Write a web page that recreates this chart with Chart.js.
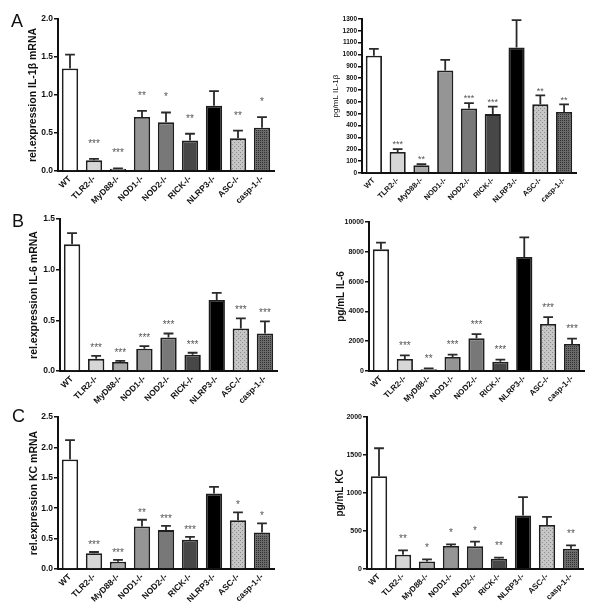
<!DOCTYPE html>
<html><head><meta charset="utf-8">
<script src="https://cdn.jsdelivr.net/npm/chart.js@4/dist/chart.umd.min.js"></script>
<style>
html,body{margin:0;padding:0;background:#fff;}
#wrap{position:relative;width:600px;height:613px;overflow:hidden;background:#fff;}
canvas{position:absolute;}
.letter{position:absolute;font-family:Arial,"Liberation Sans",sans-serif;font-size:18px;color:#111;line-height:1;}
</style></head><body>
<div id="wrap">
  <canvas id="cA1"></canvas><canvas id="cA2"></canvas>
  <canvas id="cB1"></canvas><canvas id="cB2"></canvas>
  <canvas id="cC1"></canvas><canvas id="cC2"></canvas>
  <div class="letter" style="left:11px;top:12px">A</div>
  <div class="letter" style="left:12px;top:212px">B</div>
  <div class="letter" style="left:12px;top:407px">C</div>
</div>
<script>
// ---- data ----
const categories = ['WT','TLR2-/-','MyD88-/-','NOD1-/-','NOD2-/-','RICK-/-','NLRP3-/-','ASC-/-','casp-1-/-'];

const il1bMrnaMean  = [1.35, 0.14, 0.03, 0.71, 0.64, 0.40, 0.86, 0.43, 0.57];
const il1bMrnaSem   = [0.18, 0.02, 0.005, 0.08, 0.13, 0.09, 0.19, 0.10, 0.14];
const il1bMrnaStars = ['', '***', '***', '**', '*', '**', '', '**', '*'];
const il1bMrnaTicks = [0, 0.5, 1.0, 1.5, 2.0];

const il1bProtMean  = [990, 177, 65, 865, 545, 497, 1060, 580, 515];
const il1bProtSem   = [57, 25, 10, 90, 45, 63, 230, 75, 65];
const il1bProtStars = ['', '***', '**', '', '***', '***', '', '**', '**'];
const il1bProtTicks = [0,100,200,300,400,500,600,700,800,900,1000,1100,1200,1300];

const il6MrnaMean  = [1.25, 0.12, 0.09, 0.22, 0.33, 0.16, 0.70, 0.42, 0.37];
const il6MrnaSem   = [0.11, 0.03, 0.01, 0.025, 0.04, 0.02, 0.07, 0.10, 0.12];
const il6MrnaStars = ['', '***', '***', '***', '***', '***', '', '***', '***'];
const il6MrnaTicks = [0, 0.5, 1.0, 1.5];

const il6ProtMean  = [8165, 805, 110, 940, 2190, 626, 7650, 3150, 1810];
const il6ProtSem   = [450, 245, 70, 160, 290, 134, 1320, 470, 360];
const il6ProtStars = ['', '***', '**', '***', '***', '***', '', '***', '***'];
const il6ProtTicks = [0, 2000, 4000, 6000, 8000, 10000];

const kcMrnaMean  = [1.80, 0.26, 0.12, 0.70, 0.64, 0.48, 1.24, 0.80, 0.60];
const kcMrnaSem   = [0.32, 0.02, 0.03, 0.11, 0.07, 0.05, 0.11, 0.13, 0.15];
const kcMrnaStars = ['', '***', '***', '**', '***', '***', '', '*', '*'];
const kcMrnaTicks = [0, 0.5, 1.0, 1.5, 2.0, 2.5];

const kcProtMean  = [1221, 188, 100, 302, 298, 136, 705, 578, 267];
const kcProtSem   = [368, 57, 27, 22, 61, 13, 240, 109, 44];
const kcProtStars = ['', '**', '*', '*', '*', '**', '', '', '**'];
const kcProtTicks = [0, 500, 1000, 1500, 2000];

// ---- styles ----
const FONT = 'Arial, "Liberation Sans", sans-serif';
function makePattern(bg, fg, cross) {
  const c = document.createElement('canvas'); c.width = 4; c.height = 4;
  const g = c.getContext('2d');
  g.fillStyle = bg; g.fillRect(0, 0, 4, 4);
  g.fillStyle = fg;
  g.fillRect(0, 0, 1, 1); g.fillRect(2, 2, 1, 1);
  if (cross) { g.fillRect(2, 0, 1, 1); g.fillRect(0, 2, 1, 1); }
  return g.createPattern(c, 'repeat');
}
const fills = ['#ffffff', '#d6d6d6', '#a9a9a9', '#959595', '#787878', '#474747', '#000000',
               makePattern('#c6c6c6', '#8c8c8c', false), makePattern('#6a6a6a', '#333333', true)];

function errPlugin(o) {
  return {
    id: 'err',
    afterDatasetsDraw(chart) {
      const ctx = chart.ctx, meta = chart.getDatasetMeta(0), ys = chart.scales.y;
      ctx.save();
      meta.data.forEach((bar, i) => {
        const top = ys.getPixelForValue(o.mean[i] + o.sem[i]);
        const base = ys.getPixelForValue(o.mean[i]);
        const half = bar.width * 0.3;
        ctx.strokeStyle = '#2a2a2a'; ctx.lineWidth = 1.8;
        ctx.beginPath();
        ctx.moveTo(bar.x, base); ctx.lineTo(bar.x, top);
        ctx.moveTo(bar.x - half, top); ctx.lineTo(bar.x + half, top);
        ctx.stroke();
        if (o.stars[i]) {
          ctx.fillStyle = '#555';
          ctx.font = o.starSize + 'px ' + FONT;
          ctx.textAlign = 'center'; ctx.textBaseline = 'alphabetic';
          ctx.fillText(o.stars[i], bar.x, top - o.starOff + o.starSize * 0.58);
        }
      });
      ctx.restore();
    }
  };
}

function panel(id, o) {
  const cv = document.getElementById(id);
  cv.width = 300; cv.height = o.h;
  cv.style.left = o.cl + 'px'; cv.style.top = o.ct + 'px';
  cv.style.width = '300px'; cv.style.height = o.h + 'px';
  const ticks = o.ticks;
  const lh = o.titleSize * 1.2;
  new Chart(cv, {
    type: 'bar',
    data: { labels: categories, datasets: [{
      data: o.mean, backgroundColor: fills, borderColor: '#1e1e1e', borderWidth: 1.8,
      barPercentage: 0.68, categoryPercentage: 1 }] },
    options: {
      responsive: false, animation: false, devicePixelRatio: 1,
      layout: { padding: { left: 0, top: o.T - o.ct, right: o.cl + 300 - o.R, bottom: 0 } },
      plugins: { legend: { display: false }, tooltip: { enabled: false } },
      scales: {
        x: {
          grid: { display: false, drawTicks: false },
          border: { display: true, color: '#111', width: 2 },
          ticks: { minRotation: 45, maxRotation: 45, autoSkip: false, padding: 3, color: '#111',
                   font: { family: FONT, size: o.xSize, weight: 'bold' } },
          afterFit: s => { s.height = o.ct + o.h - o.B; }
        },
        y: {
          min: ticks[0], max: ticks[ticks.length - 1],
          afterBuildTicks: s => { s.ticks = ticks.map(v => ({ value: v })); },
          grid: { drawOnChartArea: false, drawTicks: true, tickLength: 4, color: '#111', lineWidth: 1.5 },
          border: { display: true, color: '#111', width: 2 },
          ticks: { padding: 1, color: '#111', font: { family: FONT, size: o.tickSize, weight: 'bold' },
                   callback: v => o.dec ? Number(v).toFixed(1) : String(v) },
          title: { display: true, text: o.title, color: '#111',
                   font: { family: FONT, size: o.titleSize, weight: o.titleWeight },
                   padding: { top: o.titleX - o.cl - lh / 2, bottom: 0 } },
          afterFit: s => { s.width = o.L - o.cl; }
        }
      }
    },
    plugins: [errPlugin(o)]
  });
}

panel('cA1', { cl: 0, ct: 0, h: 205, L: 58, T: 19, R: 274, B: 171, titleX: 33,
  title: 'rel.expression IL-1\u03B2 mRNA', titleSize: 10.5, titleWeight: 'bold', tickSize: 8.5, xSize: 8.5, dec: true,
  mean: il1bMrnaMean, sem: il1bMrnaSem, stars: il1bMrnaStars, ticks: il1bMrnaTicks, starOff: 18, starSize: 10 });
panel('cA2', { cl: 300, ct: 0, h: 205, L: 362, T: 19, R: 576, B: 173, titleX: 336,
  title: 'pg/mL IL-1\u03B2', titleSize: 8, titleWeight: 'normal', tickSize: 6.5, xSize: 7.5, dec: false,
  mean: il1bProtMean, sem: il1bProtSem, stars: il1bProtStars, ticks: il1bProtTicks, starOff: 7, starSize: 9 });
panel('cB1', { cl: 0, ct: 200, h: 205, L: 60, T: 219, R: 277, B: 371, titleX: 34,
  title: 'rel.expression IL-6 mRNA', titleSize: 10.5, titleWeight: 'bold', tickSize: 8.5, xSize: 8.5, dec: true,
  mean: il6MrnaMean, sem: il6MrnaSem, stars: il6MrnaStars, ticks: il6MrnaTicks, starOff: 11, starSize: 10 });
panel('cB2', { cl: 300, ct: 200, h: 205, L: 369, T: 222, R: 584, B: 371, titleX: 341,
  title: 'pg/mL IL-6', titleSize: 10, titleWeight: 'bold', tickSize: 7, xSize: 8, dec: false,
  mean: il6ProtMean, sem: il6ProtSem, stars: il6ProtStars, ticks: il6ProtTicks, starOff: 12, starSize: 10 });
panel('cC1', { cl: 0, ct: 400, h: 213, L: 58, T: 417, R: 274, B: 569, titleX: 34,
  title: 'rel.expression KC mRNA', titleSize: 10.5, titleWeight: 'bold', tickSize: 8.5, xSize: 8.5, dec: true,
  mean: kcMrnaMean, sem: kcMrnaSem, stars: kcMrnaStars, ticks: kcMrnaTicks, starOff: 10, starSize: 10 });
panel('cC2', { cl: 300, ct: 400, h: 213, L: 367, T: 417, R: 583, B: 569, titleX: 340,
  title: 'pg/mL KC', titleSize: 10, titleWeight: 'bold', tickSize: 7, xSize: 8, dec: false,
  mean: kcProtMean, sem: kcProtSem, stars: kcProtStars, ticks: kcProtTicks, starOff: 14, starSize: 10 });
</script>
</body></html>
